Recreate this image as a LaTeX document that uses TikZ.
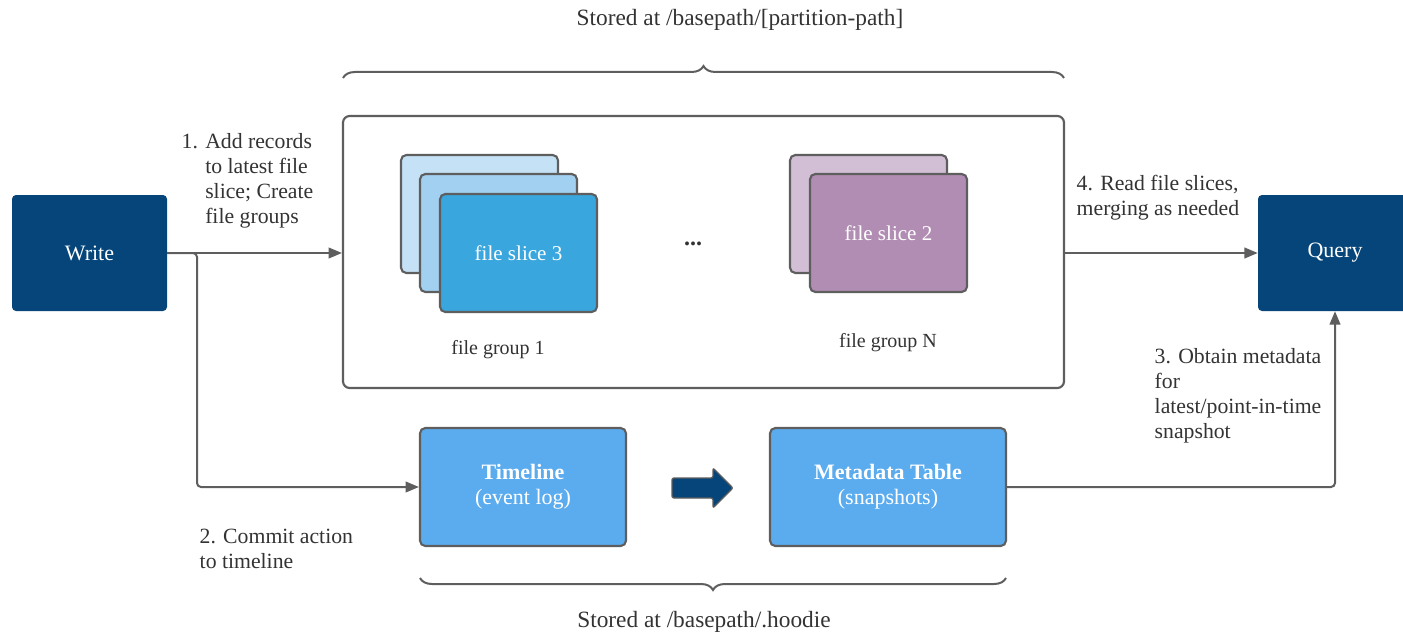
\documentclass[tikz,border=0pt]{standalone}
\usepackage{fontspec}
\setmainfont{Liberation Serif}
\usetikzlibrary{arrows.meta,shapes.arrows,decorations.pathreplacing,calc}

\definecolor{navy}{HTML}{05457A}
\definecolor{edge}{HTML}{5E5E5E}
\definecolor{ink}{HTML}{333333}
\definecolor{boxblue}{HTML}{5BACEF}
\definecolor{sliceA}{HTML}{C4E1F5}
\definecolor{sliceB}{HTML}{A2D0F1}
\definecolor{sliceC}{HTML}{3AA6DE}
\definecolor{plumA}{HTML}{D3BFD5}
\definecolor{plumB}{HTML}{B18DB3}

\tikzset{
  sz/.style 2 args={minimum width=#1*0.75pt, minimum height=#2*0.75pt},
  txt/.style={font=\fontsize{16.3}{18.75}\selectfont, text=ink},
  actor/.style={rectangle, rounded corners=3pt, fill=navy, inner sep=0pt,
    text=white, font=\fontsize{16.5}{18.75}\selectfont},
  card/.style={rectangle, rounded corners=4pt, draw=edge, line width=1.6pt,
    inner sep=0pt, text=white, font=\fontsize{15.8}{18.75}\selectfont},
  store/.style={rectangle, rounded corners=4pt, draw=edge, line width=1.6pt,
    fill=boxblue, inner sep=0pt, text=white, align=center,
    font=\fontsize{16.5}{18.75}\selectfont},
  conn/.style={draw=edge, line width=1.5pt, rounded corners=3pt,
    -{Triangle[length=10pt,width=8pt]}},
  curly/.style={draw=edge, line width=1.5pt,
    decorate, decoration={brace, amplitude=9pt}},
}

\begin{document}
\begin{tikzpicture}[x=0.75pt, y=-0.75pt]
\useasboundingbox (0,0) rectangle (1403,635);
\clip (0,0) rectangle (1403,635);

% actors
\node[actor, sz={155}{116}] (write) at (89.5,253) {Write};
\node[actor, sz={154}{116}] (query) at (1335,253) {\raisebox{-2pt}{Query}};

% partition storage
\node[rectangle, rounded corners=5pt, draw=edge, line width=1.6pt, fill=white,
  sz={721}{272}] (part) at (703.5,252) {};

% file group 1
\node[card, fill=sliceA, sz={157}{118}] (g1a) at (479.5,214) {};
\node[card, fill=sliceB, sz={157}{118}] (g1b) at (498.5,233) {};
\node[card, fill=sliceC, sz={157}{118}] (g1c) at (518.5,253) {file slice 3};
\node[txt, font=\fontsize{15}{18.75}\selectfont] (g1lbl) at (498,350) {file group 1};

\node[txt, font=\fontsize{18}{20}\selectfont\bfseries] (dots) at (693,244) {...};

% file group N
\node[card, fill=plumA, sz={157}{118}] (gna) at (868.5,214) {};
\node[card, fill=plumB, sz={157}{118}] (gnb) at (888.5,233) {file slice 2};
\node[txt, font=\fontsize{15}{18.75}\selectfont] (gnlbl) at (888,343) {file group N};

% metadata storage
\node[store, sz={206}{118}] (timeline) at (523,487)
  {\textbf{Timeline}\\(event log)};
\node[store, sz={236}{118}] (meta) at (888,487)
  {\textbf{Metadata Table}\\(snapshots)};
\node[single arrow, fill=navy, draw=edge, line width=1pt, rounded corners=1.5pt,
  inner xsep=0pt, inner ysep=7pt, minimum height=61*0.75pt,
  single arrow head extend=7.5pt, single arrow head indent=0pt] (adv) at (697.5,488) {};

% braces and storage paths
\coordinate (tl) at (343,78);
\coordinate (tr) at (1064,78);
\draw[curly] (tl) -- (tr);
\node[txt, font=\fontsize{17.5}{18.75}\selectfont] (toppath) at (740,20) {Stored at /basepath/[partition-path]};
\coordinate (bl) at (420,578);
\coordinate (br) at (1006,578);
\draw[curly] (br) -- (bl);
\node[txt, font=\fontsize{17.5}{18.75}\selectfont] (botpath) at (704,622) {Stored at /basepath/.hoodie};

% connectors
\coordinate (fork) at (197,253);
\draw[conn] (write.east) -- (part.west |- write.east);
\draw[conn] (write.east) -- (fork) |- (timeline.west);
\draw[conn] (part.east |- query.west) -- (query.west);
\draw[conn] (meta.east) -| (query.south);

% step labels
\node[txt, anchor=north west, align=left] (s1) at (177,129)
  {1. Add records\\\phantom{1. }to latest file\\\phantom{1. }slice; Create\\\phantom{1. }file groups};
\node[txt, anchor=north west, align=left] (s2) at (195,524)
  {2. Commit action\\to timeline};
\node[txt, anchor=north west, align=left] (s3) at (1150,344)
  {3. Obtain metadata\\for\\latest/point-in-time\\snapshot};
\node[txt, anchor=north west, align=left] (s4) at (1072,170)
  {4. Read file slices,\\merging as needed};
\end{tikzpicture}
\end{document}
